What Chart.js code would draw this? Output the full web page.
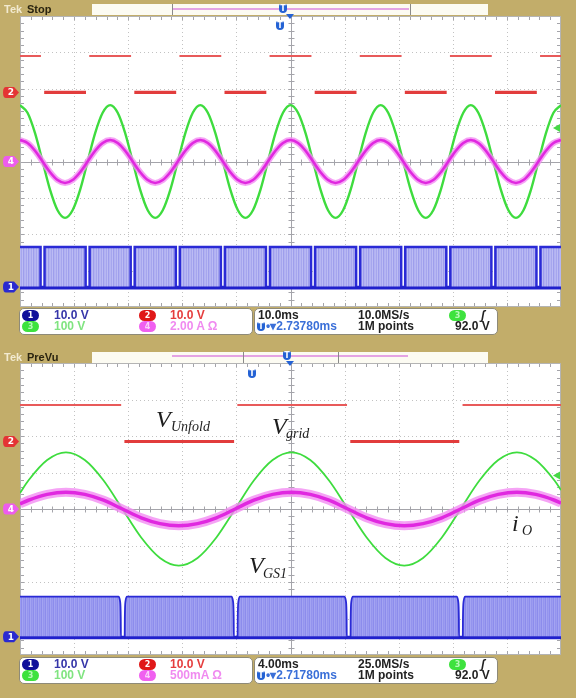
<!DOCTYPE html>
<html lang="en">
<head>
<meta charset="UTF-8" />
<title>Unfolding inverter scope captures</title>
<script src="https://cdn.jsdelivr.net/npm/chart.js"></script>
<style>
  body { margin:0; width:576px; height:698px; background:#c2ad6a; position:relative; overflow:hidden; }
  canvas { position:absolute; left:0; }
  .abs { position:absolute; white-space:pre; }
  .tek { font:bold 11px "Liberation Sans", sans-serif; }
  .bar { background:#fcfbf2; }
  .ibox { border-left:1px solid #8a8a8a; border-right:1px solid #8a8a8a; }
  .pink { background:#e4a4e4; height:2px; }
  .tmark { width:8px; height:9px; background:#2462d4; color:#fff; border-radius:2px 2px 4px 4px;
           font:bold 8px "DejaVu Sans", sans-serif; text-align:center; line-height:9px; }
  .sbox { background:#fff; border:1px solid #8e8a78; border-radius:5px; }
  .badge { width:17px; height:11px; border-radius:6px; color:#fff; text-align:center;
           font:bold 8px "DejaVu Sans", sans-serif; line-height:11px; }
  .st { font:bold 12px "Liberation Sans", sans-serif; line-height:13px; }
  .ann { font:italic 24px "Liberation Serif", serif; color:#1e1e1e; line-height:1; }
  .sub { font:italic 14px "Liberation Serif", serif; color:#1e1e1e; line-height:1; }
</style>
</head>
<body>
<canvas id="scopeTop" width="576" height="345" style="top:0"></canvas>
<canvas id="scopeBot" width="576" height="351" style="top:347px"></canvas>

<!-- headers -->
<div class="abs tek" style="left:4px;top:3px;color:#f2ead0">Tek</div>
<div class="abs tek" style="left:27px;top:3px;color:#2a2410">Stop</div>
<div class="abs bar" style="left:92px;top:4px;width:396px;height:11px"></div>
<div class="abs ibox" style="left:172px;top:4px;width:237px;height:11px"></div>
<div class="abs pink" style="left:173px;top:8px;width:236px"></div>
<div class="abs tmark" style="left:279px;top:4px">T</div>
<div class="abs" style="left:286px;top:14px;width:0;height:0;border-left:4px solid transparent;border-right:4px solid transparent;border-top:5px solid #2462d4"></div>
<div class="abs tmark" style="left:276px;top:21px">T</div>

<div class="abs tek" style="left:4px;top:351px;color:#f2ead0">Tek</div>
<div class="abs tek" style="left:27px;top:351px;color:#2a2410">PreVu</div>
<div class="abs bar" style="left:92px;top:352px;width:396px;height:11px"></div>
<div class="abs pink" style="left:172px;top:355px;width:236px"></div>
<div class="abs ibox" style="left:243px;top:352px;width:94px;height:11px"></div>
<div class="abs tmark" style="left:283px;top:351px">T</div>
<div class="abs" style="left:286px;top:361px;width:0;height:0;border-left:4px solid transparent;border-right:4px solid transparent;border-top:5px solid #2462d4"></div>
<div class="abs tmark" style="left:248px;top:369px">T</div>

<!-- status bars -->
<div class="abs sbox" style="left:19px;top:308px;width:232px;height:25px"></div>
<div class="abs sbox" style="left:254px;top:308px;width:242px;height:25px"></div>
<div class="abs badge" style="left:22px;top:310px;background:#10109a">1</div>
<div class="abs badge" style="left:22px;top:321px;background:#3ee23e;color:#b8f8b8">3</div>
<div class="abs badge" style="left:139px;top:310px;background:#e01818">2</div>
<div class="abs badge" style="left:139px;top:321px;background:#f060f0;color:#fbd0fb">4</div>
<div class="abs st" style="left:54px;top:309px;color:#3535a8">10.0 V</div>
<div class="abs st" style="left:54px;top:320px;color:#80e480">100 V</div>
<div class="abs st" style="left:170px;top:309px;color:#e53d3d">10.0 V</div>
<div class="abs st" style="left:170px;top:320px;color:#f08af0">2.00 A Ω</div>
<div class="abs st" style="left:258px;top:309px;color:#222">10.0ms</div>
<div class="abs st" style="left:358px;top:309px;color:#222">10.0MS/s</div>
<div class="abs badge" style="left:449px;top:310px;background:#3ee23e;color:#b8f8b8">3</div>
<div class="abs st" style="left:481px;top:309px;color:#222;font-style:italic">ʃ</div>
<div class="abs tmark" style="left:257px;top:322px">T</div>
<div class="abs st" style="left:266px;top:320px;color:#3a6fd8">•▾2.73780ms</div>
<div class="abs st" style="left:358px;top:320px;color:#222">1M points</div>
<div class="abs st" style="left:455px;top:320px;color:#222">92.0 V</div>

<div class="abs sbox" style="left:19px;top:657px;width:232px;height:25px"></div>
<div class="abs sbox" style="left:254px;top:657px;width:242px;height:25px"></div>
<div class="abs badge" style="left:22px;top:659px;background:#10109a">1</div>
<div class="abs badge" style="left:22px;top:670px;background:#3ee23e;color:#b8f8b8">3</div>
<div class="abs badge" style="left:139px;top:659px;background:#e01818">2</div>
<div class="abs badge" style="left:139px;top:670px;background:#f060f0;color:#fbd0fb">4</div>
<div class="abs st" style="left:54px;top:658px;color:#3535a8">10.0 V</div>
<div class="abs st" style="left:54px;top:669px;color:#80e480">100 V</div>
<div class="abs st" style="left:170px;top:658px;color:#e53d3d">10.0 V</div>
<div class="abs st" style="left:170px;top:669px;color:#f08af0">500mA Ω</div>
<div class="abs st" style="left:258px;top:658px;color:#222">4.00ms</div>
<div class="abs st" style="left:358px;top:658px;color:#222">25.0MS/s</div>
<div class="abs badge" style="left:449px;top:659px;background:#3ee23e;color:#b8f8b8">3</div>
<div class="abs st" style="left:481px;top:658px;color:#222;font-style:italic">ʃ</div>
<div class="abs tmark" style="left:257px;top:671px">T</div>
<div class="abs st" style="left:266px;top:669px;color:#3a6fd8">•▾2.71780ms</div>
<div class="abs st" style="left:358px;top:669px;color:#222">1M points</div>
<div class="abs st" style="left:455px;top:669px;color:#222">92.0 V</div>

<!-- annotations -->
<div class="abs ann" style="left:156px;top:407px">V</div>
<div class="abs sub" style="left:171px;top:420px">Unfold</div>
<div class="abs ann" style="left:272px;top:414px">V</div>
<div class="abs sub" style="left:286px;top:427px">grid</div>
<div class="abs ann" style="left:512px;top:511px">i</div>
<div class="abs sub" style="left:522px;top:524px">O</div>
<div class="abs ann" style="left:249px;top:553px">V</div>
<div class="abs sub" style="left:263px;top:567px">GS1</div>

<script>
// ---- top capture, 10 ms/div ----
var tTop = [0,1.39,2.78,4.17,5.56,6.94,8.33,9.72,11.11,12.5,13.89,15.28,16.67,18.06,19.44,20.83,22.22,23.61,
  25,26.39,27.78,29.17,30.56,31.94,33.33,34.72,36.11,37.5,38.89,40.28,41.67,43.06,44.44,45.83,47.22,48.61,
  50,51.39,52.78,54.17,55.56,56.94,58.33,59.72,61.11,62.5,63.89,65.28,66.67,68.06,69.44,70.83,72.22,73.61,
  75,76.39,77.78,79.17,80.56,81.94,83.33,84.72,86.11,87.5,88.89,90.28,91.67,93.06,94.44,95.83,97.22,98.61,100];
var vGridTop = [155,134,78,0,-78,-134,-155,-134,-78,0,78,134,
  155,134,78,0,-78,-134,-155,-134,-78,0,78,134,
  155,134,78,0,-78,-134,-155,-134,-78,0,78,134,
  155,134,78,0,-78,-134,-155,-134,-78,0,78,134,
  155,134,78,0,-78,-134,-155,-134,-78,0,78,134,
  155,134,78,0,-78,-134,-155,-134,-78,0,78,134,155];
var iOutTop = [1.18,1.02,0.59,0,-0.59,-1.02,-1.18,-1.02,-0.59,0,0.59,1.02,
  1.18,1.02,0.59,0,-0.59,-1.02,-1.18,-1.02,-0.59,0,0.59,1.02,
  1.18,1.02,0.59,0,-0.59,-1.02,-1.18,-1.02,-0.59,0,0.59,1.02,
  1.18,1.02,0.59,0,-0.59,-1.02,-1.18,-1.02,-0.59,0,0.59,1.02,
  1.18,1.02,0.59,0,-0.59,-1.02,-1.18,-1.02,-0.59,0,0.59,1.02,
  1.18,1.02,0.59,0,-0.59,-1.02,-1.18,-1.02,-0.59,0,0.59,1.02,1.18];
var unfoldEdgesTop = [0,4.17,12.5,20.83,29.17,37.5,45.83,54.17,62.5,70.83,79.17,87.5,95.83,100];
var unfoldLevelsTop = [10,0,10,0,10,0,10,0,10,0,10,0,10];
var gsGapsTop = [4.17,12.5,20.83,29.17,37.5,45.83,54.17,62.5,70.83,79.17,87.5,95.83];

// ---- bottom capture, 4 ms/div ----
var tBot = [0,0.62,2.01,3.4,4.79,6.18,7.57,8.96,10.35,11.74,13.13,14.52,15.91,17.29,18.68,20.07,21.46,
  22.85,24.24,25.63,27.02,28.41,29.8,31.19,32.58,33.97,35.36,36.74,38.13,39.52,40];
var vGridBot = [44,78,134,155,134,78,0,-78,-134,-155,-134,-78,0,78,134,155,134,78,0,-78,-134,-155,-134,-78,
  0,78,134,155,134,78,52];
var iOutBot = [0.07,0.12,0.2,0.23,0.2,0.12,0,-0.12,-0.2,-0.23,-0.2,-0.12,0,0.12,0.2,0.23,0.2,0.12,0,
  -0.12,-0.2,-0.23,-0.2,-0.12,0,0.12,0.2,0.23,0.2,0.12,0.08];
var unfoldEdgesBot = [0,7.6,15.95,24.3,32.6,40];
var unfoldLevelsBot = [10,0,10,0,10];
var gsGapsBot = [7.6,15.95,24.3,32.6];

var gateHigh = 11;     // V
var trigLevel = 92;    // V on ch3

// channel setup: ground position (div) and V/div
var chTop = { c1:{gnd:-3.45, s:10}, c2:{gnd:1.9, s:10}, c3:{gnd:0, s:100}, c4:{gnd:0, s:2} };
var chBot = { c1:{gnd:-3.5, s:10},  c2:{gnd:1.85, s:10}, c3:{gnd:0, s:100}, c4:{gnd:0, s:0.5} };

function toDiv(ch, v) { return ch.gnd + v / ch.s; }

function trace(ts, vs, ch) {
  return ts.map(function (t, i) { return { x: t, y: toDiv(ch, vs[i]) }; });
}

// segments of the unfolding signal at one level, separated by gaps
function segments(edges, levels, want, ch, gap) {
  var pts = [];
  for (var i = 0; i < levels.length; i++) {
    if (levels[i] !== want) continue;
    var a = i === 0 ? edges[0] : edges[i] + gap;
    var b = i === levels.length - 1 ? edges[i + 1] : edges[i + 1] - gap;
    pts.push({ x: a, y: toDiv(ch, want) }, { x: b, y: toDiv(ch, want) }, { x: b, y: null });
  }
  return pts;
}

// envelope of the gate PWM with blanking round each zero crossing
function gate(gaps, ch, tEnd, shape) {
  var pts = [{ x: 0, y: toDiv(ch, gateHigh) }];
  gaps.forEach(function (c) {
    shape.forEach(function (p) { pts.push({ x: c + p[0], y: toDiv(ch, gateHigh * p[1]) }); });
  });
  pts.push({ x: tEnd, y: toDiv(ch, gateHigh) });
  return pts;
}

function stripes(cols) {
  var c = document.createElement('canvas');
  c.width = cols.length; c.height = 4;
  var g = c.getContext('2d');
  cols.forEach(function (col, i) { g.fillStyle = col; g.fillRect(i, 0, 1, 4); });
  return g.createPattern(c, 'repeat');
}

var scopeGrid = {
  id: 'scopeGrid',
  beforeDraw: function (chart) {
    var ctx = chart.ctx, a = chart.chartArea;
    ctx.save();
    ctx.fillStyle = '#ffffff';
    ctx.fillRect(a.left, a.top, a.width, a.height);
    ctx.restore();
  },
  beforeDatasetsDraw: function (chart, args, opts) {
    var ctx = chart.ctx, a = chart.chartArea, x = chart.scales.x, y = chart.scales.y;
    var d = opts.xDiv;
    function ln(x1, y1, x2, y2) { ctx.beginPath(); ctx.moveTo(x1, y1); ctx.lineTo(x2, y2); ctx.stroke(); }
    function px(v) { return Math.round(x.getPixelForValue(v)) + 0.5; }
    function py(v) { return Math.round(y.getPixelForValue(v)) + 0.5; }
    ctx.save();
    ctx.lineWidth = 1;
    ctx.strokeStyle = '#c2c2c2';
    ctx.setLineDash([1, 3]);
    for (var i = 1; i < 10; i++) if (i !== 5) ln(px(i * d), a.top, px(i * d), a.bottom);
    for (var j = -3; j <= 3; j++) if (j !== 0) ln(a.left, py(j), a.right, py(j));
    ctx.setLineDash([]);
    ctx.strokeStyle = '#a4a4aa';
    var cx = px(5 * d), cy = py(0);
    ln(cx, a.top, cx, a.bottom);
    ln(a.left, cy, a.right, cy);
    for (var k = 1; k < 50; k++) {
      var xx = px(k * d / 5);
      ln(xx, cy - 3, xx, cy + 3);
      ln(xx, a.top, xx, a.top + 4);
      ln(xx, a.bottom - 4, xx, a.bottom);
    }
    for (var m = -19; m < 20; m++) {
      var yy = py(m / 5);
      ln(cx - 3, yy, cx + 3, yy);
      ln(a.left, yy, a.left + 4, yy);
      ln(a.right - 4, yy, a.right, yy);
    }
    ctx.strokeStyle = '#b4b4b4';
    ctx.strokeRect(a.left + 0.5, a.top + 0.5, a.width - 1, a.height - 1);
    ctx.restore();
  },
  afterDraw: function (chart, args, opts) {
    var ctx = chart.ctx, a = chart.chartArea, y = chart.scales.y;
    ctx.save();
    opts.marks.forEach(function (mk) {
      var p = y.getPixelForValue(mk.gnd);
      ctx.fillStyle = mk.color;
      ctx.beginPath();
      ctx.moveTo(6, p - 5.5); ctx.lineTo(14, p - 5.5); ctx.lineTo(19, p);
      ctx.lineTo(14, p + 5.5); ctx.lineTo(6, p + 5.5);
      ctx.quadraticCurveTo(3, p + 5.5, 3, p); ctx.quadraticCurveTo(3, p - 5.5, 6, p - 5.5);
      ctx.fill();
      ctx.fillStyle = '#ffffff';
      ctx.font = 'bold 9px "DejaVu Sans"';
      ctx.textAlign = 'center'; ctx.textBaseline = 'middle';
      ctx.fillText(mk.n, 11, p + 0.5);
    });
    var t = y.getPixelForValue(opts.trig);
    ctx.fillStyle = '#46d846';
    ctx.beginPath();
    ctx.moveTo(a.right - 8, t); ctx.lineTo(a.right - 1, t - 4); ctx.lineTo(a.right - 1, t + 4);
    ctx.fill();
    ctx.restore();
  }
};

function makeScope(id, cfg) {
  var ch = cfg.ch;
  var datasets = [
    { data: trace(cfg.t, cfg.io, ch.c4), borderColor: '#e028e0', borderWidth: cfg.ioCore, order: 1 },
    { data: trace(cfg.t, cfg.io, ch.c4), borderColor: 'rgba(242,140,242,0.8)', borderWidth: cfg.ioGlow, order: 2 },
    { data: trace(cfg.t, cfg.vg, ch.c3), borderColor: '#3edc3e', borderWidth: cfg.gw, order: 3 },
    { data: segments(cfg.edges, cfg.levels, 10, ch.c2, cfg.rgap), borderColor: '#e85a5a', borderWidth: 2, order: 4,
      tension: 0 },
    { data: segments(cfg.edges, cfg.levels, 0, ch.c2, cfg.rgap), borderColor: '#e23c3c', borderWidth: 3.2, order: 4,
      tension: 0 },
    { data: gate(cfg.gaps, ch.c1, cfg.tEnd, cfg.shape), borderColor: '#2a2ad6', borderWidth: cfg.bw, order: 6,
      tension: 0, fill: { value: ch.c1.gnd }, backgroundColor: cfg.pat },
    { data: [{ x: 0, y: ch.c1.gnd - 0.03 }, { x: cfg.tEnd, y: ch.c1.gnd - 0.03 }], borderColor: '#2020cc',
      borderWidth: 3, order: 5, tension: 0 }
  ];
  return new Chart(document.getElementById(id), {
    type: 'line',
    data: { datasets: datasets },
    options: {
      responsive: false,
      animation: false,
      layout: { padding: cfg.pad },
      elements: { point: { radius: 0 }, line: { cubicInterpolationMode: 'monotone', borderCapStyle: 'butt' } },
      scales: {
        x: { type: 'linear', min: 0, max: cfg.tEnd, display: false },
        y: { min: -4, max: 4, display: false }
      },
      plugins: {
        legend: { display: false },
        tooltip: { enabled: false },
        scopeGrid: {
          xDiv: cfg.tEnd / 10,
          trig: toDiv(ch.c3, trigLevel),
          marks: [
            { n: '2', gnd: ch.c2.gnd, color: '#e43434' },
            { n: '4', gnd: ch.c4.gnd, color: '#ee5cee' },
            { n: '1', gnd: ch.c1.gnd, color: '#2a2ad0' }
          ]
        }
      }
    },
    plugins: [scopeGrid]
  });
}

makeScope('scopeTop', {
  ch: chTop, t: tTop, vg: vGridTop, io: iOutTop, edges: unfoldEdgesTop, levels: unfoldLevelsTop,
  gaps: gsGapsTop, tEnd: 100, rgap: 0.3, gw: 2.4, ioCore: 2.6, ioGlow: 6, bw: 2.5,
  shape: [[-0.37, 1], [-0.37, 0], [0.37, 0], [0.37, 1]],
  pat: stripes(['#b6b6f2', '#a6a6ee', '#bcbcf4', '#9e9eec', '#b2b2f2']),
  pad: { left: 20, right: 15, top: 16, bottom: 38 }
});

makeScope('scopeBot', {
  ch: chBot, t: tBot, vg: vGridBot, io: iOutBot, edges: unfoldEdgesBot, levels: unfoldLevelsBot,
  gaps: gsGapsBot, tEnd: 40, rgap: 0.12, gw: 1.8, ioCore: 3.5, ioGlow: 9, bw: 1.8,
  shape: [[-0.32, 1], [-0.2, 0.88], [-0.15, 0.45], [-0.14, 0], [0.14, 0], [0.15, 0.45], [0.2, 0.88], [0.32, 1]],
  pat: stripes(['#9c9cf0', '#8c8cec', '#a4a4f2', '#9494ee']),
  pad: { left: 20, right: 15, top: 16, bottom: 43 }
});
</script>
</body>
</html>
